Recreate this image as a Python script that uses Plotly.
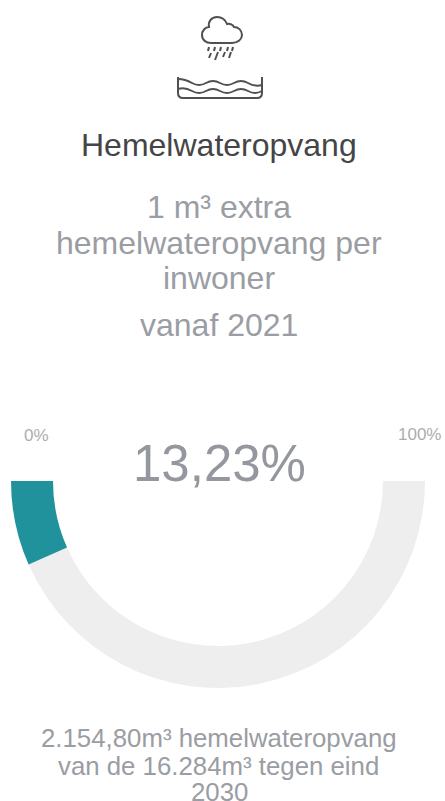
import plotly.graph_objects as go

W, H = 445, 801
segment_labels = ["Verborgen", "Resterend", "Behaald"]
segment_values = [100, 86.77, 13.23]
segment_colors = ["rgba(0,0,0,0)", "#eeeeee", "#1f929c"]

FONT = "Liberation Sans"
GREY = "#9a9da3"
texts = [
    ("Hemelwateropvang", 218.5, 145, 32, "#454545"),
    ("1 m³ extra", 219, 207, 32, GREY),
    ("hemelwateropvang per", 219, 243, 32, GREY),
    ("inwoner", 219, 278, 32, GREY),
    ("vanaf 2021", 219, 325, 32, GREY),
    ("0%", 36.5, 435, 17, "#adadad"),
    ("100%", 419, 434, 17, "#adadad"),
    ("13,23%", 219, 463, 51, "#94979e"),
    ("2.154,80m³ hemelwateropvang", 218.5, 738, 25.8, GREY),
    ("van de 16.284m³ tegen eind", 218.5, 766, 25.8, GREY),
    ("2030", 219, 792, 25.8, GREY),
]

fig = go.Figure()
fig.add_trace(go.Pie(
    labels=segment_labels, values=segment_values, sort=False,
    direction="clockwise", rotation=270, hole=165 / 207,
    marker=dict(colors=segment_colors, line=dict(width=0)),
    textinfo="none", hoverinfo="skip", showlegend=False,
    domain=dict(x=[11 / W, 425 / W], y=[(H - 688) / H, (H - 274) / H]),
))

# decorative icon, in a pixel frame that matches the page
px = dict(range=[0, W], visible=False, fixedrange=True)
py = dict(range=[H, 0], visible=False, fixedrange=True)
fig.add_trace(go.Scatter(x=[], y=[], xaxis="x", yaxis="y", showlegend=False))
STROKE = dict(color="#505050", width=2)
icon_paths = [
    "M 211 43 L 232 43 C 238 43 242 39 242 35 C 242 30 238 27 234 27 "
    "C 233 25 230 23 227 24 C 225 19 221 17 217 17 C 211 17 208 22 209 27 "
    "C 205 27 202 31 202 35 C 202 40 206 43 211 43 Z",
    "M 209 47 L 208 51", "M 215 47 L 214 51", "M 221 47 L 220 51", "M 228 47 L 227 51", "M 233 47 L 232 51",
    "M 211 53 L 209 58", "M 218 52 L 215 60", "M 225 52 L 223 57", "M 231 52 L 229 58",
    "M 178 77 L 178 93 Q 178 98 183 98 L 257 98 Q 262 98 262 93 L 262 77",
    "M 178 79 Q 185 79 192 83 Q 199 87 206 83 Q 213 79 220 83 Q 227 87 234 83 Q 241 79 248 83 Q 255 87 262 85",
    "M 178 89 Q 185 87 192 91 Q 199 95 206 91 Q 213 87 220 91 Q 227 95 234 91 Q 241 87 248 91 Q 255 95 262 91",
]
for p in icon_paths:
    fig.add_shape(type="path", path=p, xref="x", yref="y", line=STROKE, layer="above")

for t, x, y, size, col in texts:
    fig.add_annotation(text=t, x=x, y=y, xref="x", yref="y", showarrow=False,
                       xanchor="center", yanchor="middle",
                       font=dict(family=FONT, size=size, color=col))

fig.update_layout(width=W, height=H, margin=dict(l=0, r=0, t=0, b=0),
                  xaxis=px, yaxis=py, paper_bgcolor="white", plot_bgcolor="rgba(0,0,0,0)")
fig.write_html("out.html", config=dict(displayModeBar=False),
               post_script="document.body.style.margin='0';document.body.style.overflow='hidden';")
